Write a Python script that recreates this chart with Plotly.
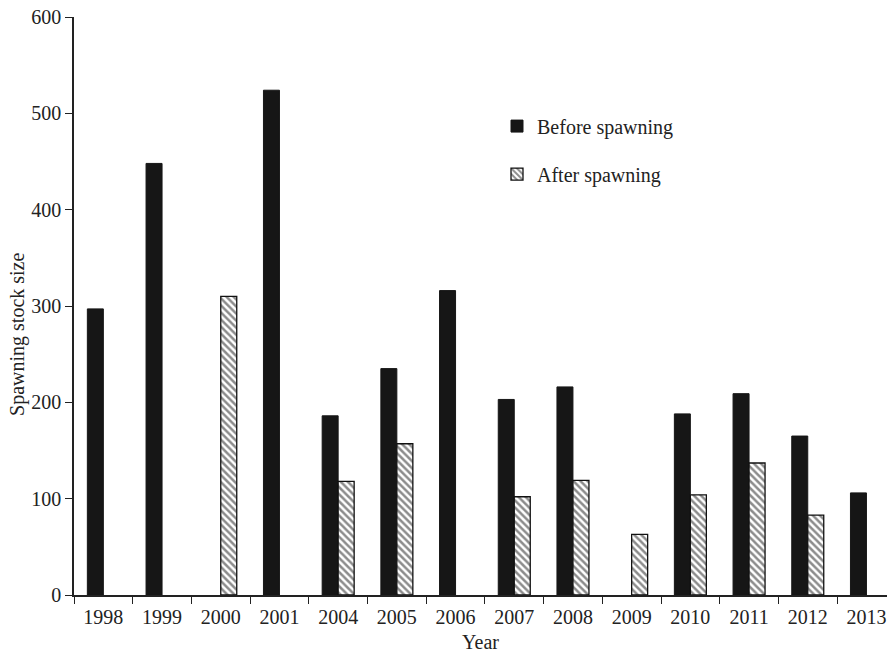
import plotly.graph_objects as go

years = ["1998", "1999", "2000", "2001", "2004", "2005", "2006",
         "2007", "2008", "2009", "2010", "2011", "2012", "2013"]
before = [297, 448, None, 524, 186, 235, 316, 203, 216, None, 188, 209, 165, 106]
after = [None, None, 310, None, 118, 157, None, 102, 119, 63, 104, 137, 83, None]

FONT = "Liberation Serif, Times New Roman, serif"
TXT = "#222222"
FS = 20

fig = go.Figure()
fig.add_trace(go.Bar(
    x=years, y=before, name="Before spawning",
    marker=dict(color="#161616", line=dict(color="#161616", width=1)),
    legendgroup="a",
))
fig.add_trace(go.Bar(
    x=years, y=after, name="After spawning",
    marker=dict(color="white", line=dict(color="#111111", width=1.3),
                pattern=dict(shape="\\", size=5, solidity=0.5,
                             fgcolor="#1a1a1a", bgcolor="white")),
    legendgroup="b",
))

fig.update_layout(
    width=887, height=653,
    margin=dict(l=74, r=0, t=17, b=58),
    paper_bgcolor="white", plot_bgcolor="white",
    barmode="group", bargap=0.455, bargroupgap=0,
    font=dict(family=FONT, size=FS, color=TXT),
    showlegend=True,
    legend=dict(x=0.5203, y=0.845, xanchor="left", yanchor="top",
                bgcolor="rgba(0,0,0,0)", traceorder="grouped",
                tracegroupgap=19, font=dict(size=FS, family=FONT, color=TXT)),
    xaxis=dict(
        type="category", range=[-0.5, 13.35],
        showline=True, linecolor="#222222", linewidth=1.5,
        ticks="outside", ticklen=7, tickwidth=1.3, tickcolor="#222222",
        tickson="boundaries", showgrid=False, zeroline=False,
        ticklabelstandoff=3,
        title=dict(text="Year", font=dict(size=FS, family=FONT, color=TXT), standoff=10),
        tickfont=dict(size=FS, family=FONT, color=TXT),
    ),
    yaxis=dict(
        range=[0, 600], dtick=100,
        showline=True, linecolor="#222222", linewidth=1.5,
        ticks="outside", ticklen=7, tickwidth=1.3, tickcolor="#222222",
        showgrid=False, zeroline=False,
        tickfont=dict(size=FS, family=FONT, color=TXT),
    ),
    annotations=[dict(
        text="Spawning stock size", textangle=-90,
        xref="paper", yref="paper", x=-0.0689, y=0.4516,
        xanchor="center", yanchor="middle", showarrow=False,
        font=dict(size=FS, family=FONT, color=TXT),
    )],
)

fig.write_html("out.html")
